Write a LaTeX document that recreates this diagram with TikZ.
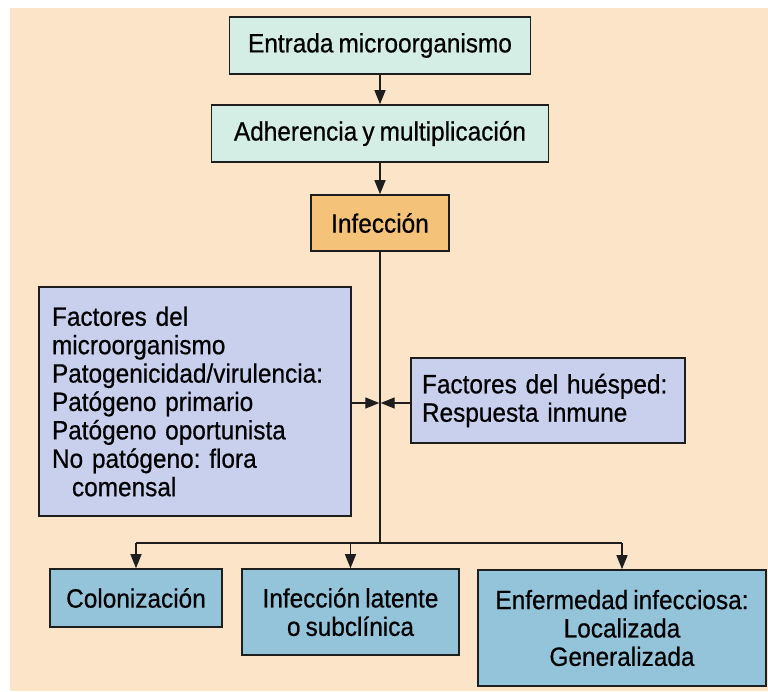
\documentclass[tikz,border=0pt]{standalone}
\usepackage{fontspec}
\setmainfont{Liberation Sans}[FakeStretch=0.92, FakeBold=0.6, WordSpace=0.75]
\usetikzlibrary{arrows.meta}
\definecolor{bgpeach}{HTML}{FCE4C8}
\definecolor{mint}{HTML}{D5EEE5}
\definecolor{orangebox}{HTML}{F5C27A}
\definecolor{lavender}{HTML}{C9D0EE}
\definecolor{steel}{HTML}{93C4DA}
\definecolor{edge}{HTML}{1E1E1E}
\begin{document}
\frenchspacing
\begin{tikzpicture}[x=1pt,y=-1pt,
  box/.style={draw=edge, line width=1.6pt, inner sep=0pt, align=center,
    font=\fontsize{26.5}{28.4}\selectfont\frenchspacing},
  conn/.style={draw=edge, line width=1.3pt},
  arr/.style={conn, -{Triangle[length=14pt,width=11pt]}}]
\useasboundingbox (0,0) rectangle (768,691);
\fill[white] (0,0) rectangle (768,691);
\fill[bgpeach] (10,8) rectangle (768,691);

\node[box, fill=mint, minimum width=301pt, minimum height=57pt] (entrada) at (380,45.5) {Entrada microorganismo};
\node[box, fill=mint, minimum width=337pt, minimum height=57pt] (adher) at (380,133.5) {Adherencia y multiplicación};
\node[box, fill=orangebox, minimum width=138pt, minimum height=56pt] (infeccion) at (380,223) {Infección};

\node[box, fill=lavender, minimum width=312pt, minimum height=229pt, text width=286pt, inner xsep=13pt, align=left] (factmic) at (195,401.5)
  {Factores del\\microorganismo\\Patogenicidad/virulencia:\\Patógeno primario\\Patógeno oportunista\\No patógeno: flora\\\hspace*{20pt}comensal};
\node[box, fill=lavender, minimum width=274pt, minimum height=85pt, text width=252pt, inner xsep=11pt, align=left] (facthue) at (548,400.5)
  {Factores del huésped:\\Respuesta inmune};

\node[box, fill=steel, minimum width=172pt, minimum height=58pt] (col) at (136,598) {Colonización};
\node[box, fill=steel, minimum width=217pt, minimum height=86pt] (lat) at (350.5,612) {Infección latente\\o subclínica};
\node[box, fill=steel, minimum width=288pt, minimum height=116pt] (enf) at (622,628) {Enfermedad infecciosa:\\Localizada\\Generalizada};

\coordinate (split) at (380,543);
\coordinate (meet) at (380,403);

\draw[arr] (entrada) -- (adher);
\draw[arr] (adher) -- (infeccion);
\draw[conn] (infeccion) -- (split);
\draw[conn] (col |- split) -- (enf |- split);
\draw[arr] (col |- split) -- (col);
\draw[arr] (lat |- split) -- (lat);
\draw[arr] (enf |- split) -- (enf);
\draw[arr, shorten >=0.7pt] (factmic.east |- meet) -- (meet);
\draw[arr, shorten >=0.7pt] (facthue.west |- meet) -- (meet);
\end{tikzpicture}
\end{document}
